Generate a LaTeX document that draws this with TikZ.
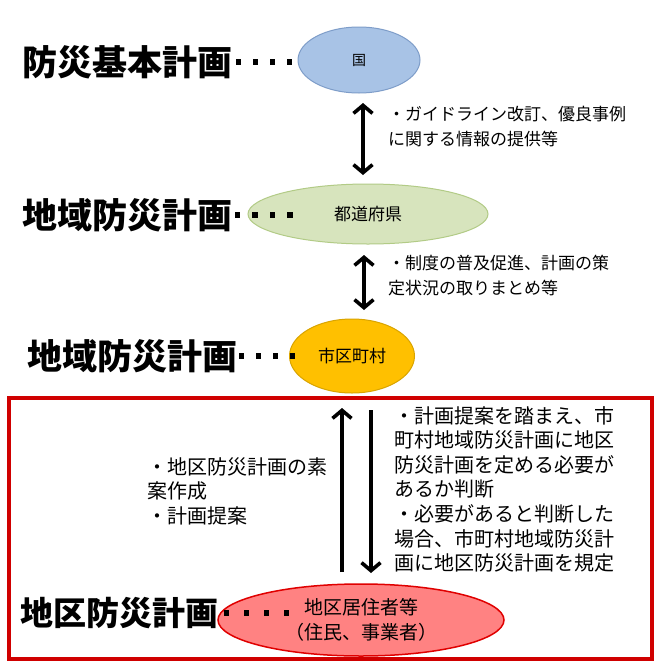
\documentclass[tikz,border=0pt]{standalone}
\usepackage{fontspec}
\setmainfont{Noto Sans CJK JP}
\usetikzlibrary{shapes.geometric,arrows.meta}
\definecolor{bluefill}{HTML}{A8C3E6}
\definecolor{blueline}{HTML}{7E9DC9}
\definecolor{greenfill}{HTML}{D7E4BD}
\definecolor{greenline}{HTML}{B2CB86}
\definecolor{orangefill}{HTML}{FFC000}
\definecolor{orangeline}{HTML}{D9A400}
\definecolor{redfill}{HTML}{FF8282}
\definecolor{redline}{HTML}{E00000}
\definecolor{boxred}{HTML}{D00000}
\tikzset{
  bigl/.style={anchor=west,inner sep=0pt,font=\fontsize{35}{35}\selectfont\bfseries},
  oval/.style={ellipse,inner sep=0pt,draw,line width=1pt},
  smalltxt/.style={anchor=north west,inner sep=0pt,align=left,font=\fontsize{17}{24.5}\selectfont},
  midtxt/.style={anchor=north west,inner sep=0pt,align=left,font=\fontsize{20}{24.6}\selectfont},
  dbl/.style={line width=3.6pt,{Straight Barb[length=8pt,width=19pt]}-{Straight Barb[length=8pt,width=19pt]}},
  onearrow/.style={line width=3.6pt,-{Straight Barb[length=8pt,width=19pt]}},
  plainline/.style={line width=3.6pt},
}
\begin{document}
\begin{tikzpicture}[x=1pt,y=-1pt]
\useasboundingbox[fill=white] (0,0) rectangle (670,667);
% red frame
\draw[boxred,line width=4pt] (9,398) rectangle (652,659);
% ellipses
\node[oval,fill=bluefill,draw=blueline,minimum width=122pt,minimum height=66pt,font=\fontsize{14}{14}\selectfont] (kuni) at (359,60) {国};
\node[oval,fill=greenfill,draw=greenline,minimum width=240pt,minimum height=60pt,font=\fontsize{17}{17}\selectfont] (todo) at (368,214) {都道府県};
\node[oval,fill=orangefill,draw=orangeline,minimum width=125pt,minimum height=74pt,font=\fontsize{17}{17}\selectfont] (shi) at (352,356) {市区町村};
\node[oval,fill=redfill,draw=redline,line width=1.5pt,minimum width=286pt,minimum height=72pt,align=center,font=\fontsize{19}{25}\selectfont] (chiku) at (361,620) {地区居住者等\\（住民、事業者）};
% labels
\node[bigl] (l1) at (22,62) {防災基本計画};
\node[bigl] (l2) at (22,215) {地域防災計画};
\node[bigl] (l3) at (27,356) {地域防災計画};
\node[bigl,font=\fontsize{33}{33}\selectfont\bfseries] (l4) at (20,613) {地区防災計画};
% dot leaders
\foreach \i in {0,1,2,3} {
  \fill ([xshift=\i*17pt+6pt]l1.east) ++(-2.6,-2.6) rectangle ++(5.2,5.2);
  \fill ([xshift=\i*17.5pt+5pt]l2.east) ++(-2.6,-2.6) rectangle ++(5.2,5.2);
  \fill ([xshift=\i*17pt+4pt]l3.east) ++(-2.6,-2.6) rectangle ++(5.2,5.2);
  \fill ([xshift=\i*20pt+8pt]l4.east) ++(-2.8,-2.8) rectangle ++(5.6,5.6);
}
% texts
\node[smalltxt] (t1) at (388,106) {・ガイドライン改訂、優良事例\\に関する情報の提供等};
\node[smalltxt] (t2) at (388,255) {・制度の普及促進、計画の策\\定状況の取りまとめ等};
\node[midtxt] (t3) at (147,457) {・地区防災計画の素\\案作成\\・計画提案};
\node[midtxt] (t4) at (394,406) {・計画提案を踏まえ、市\\町村地域防災計画に地区\\防災計画を定める必要が\\あるか判断\\・必要があると判断した\\場合、市町村地域防災計\\画に地区防災計画を規定};
% arrow end points
\coordinate (a1s) at (363,103);
\coordinate (a1e) at (363,175);
\coordinate (a2s) at (364,255);
\coordinate (a2e) at (364,310);
\coordinate (ups) at (342,572);
\coordinate (upe) at (342,408);
\coordinate (dns) at (371,410);
\coordinate (dne) at (371,573);
\draw[dbl] (a1s) -- (a1e);
\draw[dbl] (a2s) -- (a2e);
\draw[onearrow] (ups) -- (upe);
\draw[onearrow] (dns) -- (dne);
\end{tikzpicture}
\end{document}
